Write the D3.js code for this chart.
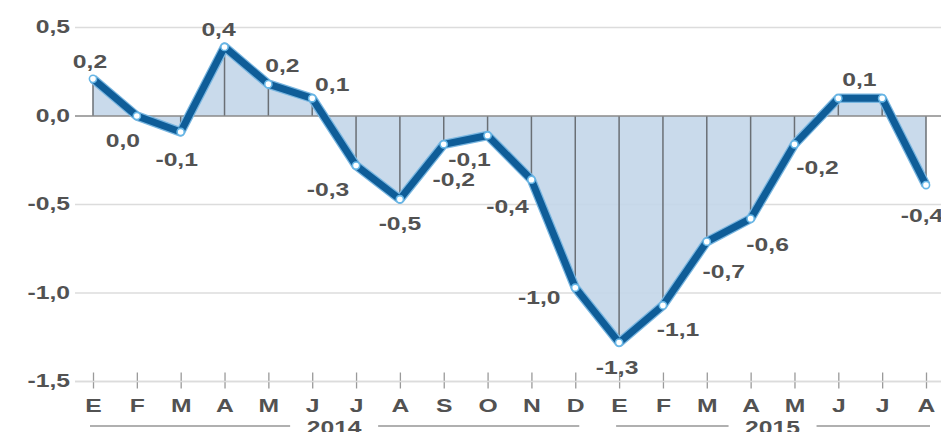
<!DOCTYPE html>
<html>
<head>
<meta charset="utf-8">
<script src="https://cdn.jsdelivr.net/npm/d3@7"></script>
<style>
  html, body { margin: 0; padding: 0; background: #fff; }
  svg { display: block; font-family: "Liberation Sans", Arial, sans-serif; }
</style>
</head>
<body>
<svg id="chart" width="941" height="432"></svg>
<script>
// Monthly rate, Jan 2014 – Aug 2015 (Spanish month initials)
const months = ["E","F","M","A","M","J","J","A","S","O","N","D",
                "E","F","M","A","M","J","J","A"];
const years = ["2014", "2015"];
const yearOfMonth = [0,0,0,0,0,0,0,0,0,0,0,0,1,1,1,1,1,1,1,1];
const values = [0.21, 0.0, -0.09, 0.39, 0.18, 0.1, -0.28, -0.47, -0.16, -0.11,
                -0.36, -0.97, -1.28, -1.07, -0.71, -0.58, -0.16, 0.1, 0.1, -0.39];
// which points carry a value label
const labelled = [1,1,1,1,1,1,1,1,1,1,1,1,1,1,1,1,1,1,0,1];
const yTicks = [0.5, 0.0, -0.5, -1.0, -1.5];

// label placement relative to each point (layout only)
const labelOffsets = [
  [-3,-11],[-14,31],[-4,34],[-6,-11],[14,-12],[20,-7],[-28,30],[0,31],
  [10,42],[-18,31],[-24,33],[-36,16],[-2,31],[15,31],[17,36],[17,32],
  [23,30],[21,-12],[0,0],[-4,37]
];

const svg = d3.select("#chart");
const textColor = "#525252";
const stretch = 1.3;            // wide lettering
const fmt = v => d3.format(".1f")(v).replace(".", ",").replace("−", "-");

const x = d3.scalePoint().domain(d3.range(months.length)).range([93, 926]);
const y = d3.scaleLinear().domain([-1.5, 0.5]).range([381.5, 27.5]);

const gridLeft = 75, gridRight = 941;

function styleText(sel, size) {
  sel.attr("fill", textColor)
     .attr("font-size", size)
     .attr("font-weight", "bold")
     .attr("font-family", "Liberation Sans, Arial, sans-serif");
}

// horizontal grid
svg.append("g").selectAll("line")
  .data(yTicks.filter(t => t !== 0))
  .join("line")
  .attr("x1", gridLeft).attr("x2", gridRight)
  .attr("y1", d => y(d)).attr("y2", d => y(d))
  .attr("stroke", "#dcdcdc").attr("stroke-width", 1.5);

// area between the series and zero
const area = d3.area()
  .x((d, i) => x(i))
  .y0(y(0))
  .y1(d => y(d));
svg.append("path")
  .datum(values)
  .attr("d", area)
  .attr("fill", "#c3d6e9")
  .attr("fill-opacity", 0.9);

// drop lines from zero to each point
svg.append("g").selectAll("line")
  .data(values)
  .join("line")
  .attr("x1", (d, i) => x(i)).attr("x2", (d, i) => x(i))
  .attr("y1", y(0)).attr("y2", d => y(d))
  .attr("stroke", "#6a6f75").attr("stroke-width", 1.5);

// zero line
svg.append("line")
  .attr("x1", gridLeft).attr("x2", gridRight)
  .attr("y1", y(0)).attr("y2", y(0))
  .attr("stroke", "#8a8a8a").attr("stroke-width", 1.5);

// x axis
const xAxis = d3.axisBottom(x)
  .tickSize(0)
  .tickFormat(i => months[i]);
const axisG = svg.append("g")
  .attr("transform", `translate(0,${y(-1.5)})`)
  .call(xAxis);
axisG.select(".domain").remove();
axisG.selectAll(".tick text").remove();
svg.append("line")
  .attr("x1", gridLeft).attr("x2", gridRight)
  .attr("y1", y(-1.5)).attr("y2", y(-1.5))
  .attr("stroke", "#dcdcdc").attr("stroke-width", 1.5);
axisG.selectAll(".tick").append("line")
  .attr("y1", -9).attr("y2", 7)
  .attr("stroke", "#9a9a9a").attr("stroke-width", 1.3);
axisG.selectAll(".tick").append("text")
  .attr("transform", `translate(0,30) scale(${stretch},1)`)
  .attr("text-anchor", "middle")
  .call(styleText, 19)
  .text(i => months[i]);

// year captions with rules
years.forEach((yr, k) => {
  const idx = d3.range(months.length).filter(i => yearOfMonth[i] === k);
  const x0 = x(idx[0]) - 3, x1 = x(idx[idx.length - 1]) + 4;
  const cx = (x(idx[0]) + x(idx[idx.length - 1])) / 2;
  const gap = 44;
  const g = svg.append("g");
  g.append("line").attr("x1", x0).attr("x2", cx - gap)
    .attr("y1", 426).attr("y2", 426)
    .attr("stroke", "#b0b0b0").attr("stroke-width", 2);
  g.append("line").attr("x1", cx + gap).attr("x2", x1)
    .attr("y1", 426).attr("y2", 426)
    .attr("stroke", "#b0b0b0").attr("stroke-width", 2);
  g.append("text")
    .attr("transform", `translate(${cx},434) scale(${stretch},1)`)
    .attr("text-anchor", "middle")
    .call(styleText, 19)
    .text(yr);
});

// y axis labels
const yAxis = d3.axisLeft(y).tickValues(yTicks).tickSize(0).tickFormat(fmt);
const yG = svg.append("g").attr("transform", "translate(70,0)").call(yAxis);
yG.select(".domain").remove();
yG.selectAll(".tick text")
  .attr("x", 0).attr("dy", null).attr("y", 5)
  .attr("text-anchor", "end")
  .call(styleText, 19)
  .attr("transform", `scale(${stretch},1)`);

// series line
const line = d3.line().x((d, i) => x(i)).y(d => y(d));
svg.append("path").datum(values).attr("d", line)
  .attr("fill", "none").attr("stroke", "#79b6e0")
  .attr("stroke-width", 9.5).attr("stroke-linejoin", "round");
svg.append("path").datum(values).attr("d", line)
  .attr("fill", "none").attr("stroke", "#0f5d98")
  .attr("stroke-width", 7).attr("stroke-linejoin", "round");

// point markers
svg.append("g").selectAll("circle")
  .data(values)
  .join("circle")
  .attr("cx", (d, i) => x(i)).attr("cy", d => y(d))
  .attr("r", 3.6)
  .attr("fill", "#ffffff")
  .attr("stroke", "#66b6e6").attr("stroke-width", 1.6);

// value labels
svg.append("g").selectAll("text")
  .data(values.map((v, i) => ({ v, i })).filter(d => labelled[d.i]))
  .join("text")
  .attr("transform", d =>
    `translate(${x(d.i) + labelOffsets[d.i][0]},${y(d.v) + labelOffsets[d.i][1]}) scale(${stretch},1)`)
  .attr("text-anchor", "middle")
  .call(styleText, 19)
  .text(d => fmt(d.v));
</script>
</body>
</html>
